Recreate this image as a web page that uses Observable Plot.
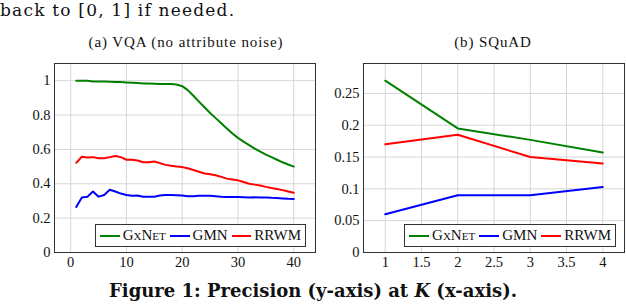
<!DOCTYPE html>
<html>
<head>
<meta charset="utf-8">
<script src="https://cdn.jsdelivr.net/npm/d3@7"></script>
<script src="https://cdn.jsdelivr.net/npm/@observablehq/plot@0.6"></script>
<style>
  html, body { margin: 0; padding: 0; background: #fff; }
  #root { position: relative; width: 626px; height: 306px; overflow: hidden; font-family: "Liberation Serif", "DejaVu Serif", serif; color: #111; }
  .abs { position: absolute; }
  .ptitle { font-size: 15px; letter-spacing: 0.9px; white-space: nowrap; transform: translateX(-50%); line-height: 18px; }
  .legend { position: absolute; background: #fff; border: 1px solid #333; box-sizing: border-box; display: flex; align-items: center; font-size: 15px; padding-left: 4px; }
  .legend .sw { display: inline-block; width: 22px; height: 2px; margin-right: 3px; }
  .legend .lab { margin-right: 4px; white-space: nowrap; }
  .sc { font-variant: small-caps; }
</style>
</head>
<body>
<div id="root"></div>
<script>
// ---- data ----
const seriesNames = ["GxNet", "GMN", "RRWM"];
const seriesColors = ["#008000", "#0000ff", "#ff0000"];

// (a) VQA, K = 1..40
const kVQA = [1,2,3,4,5,6,7,8,9,10,11,12,13,14,15,16,17,18,19,20,21,22,23,24,25,26,27,28,29,30,31,32,33,34,35,36,37,38,39,40];
const vqaGxNet = [1.0,1.0,1.0,0.995,0.995,0.995,0.994,0.993,0.992,0.99,0.988,0.986,0.984,0.983,0.982,0.98,0.98,0.98,0.978,0.968,
                  0.945,0.912,0.878,0.845,0.812,0.782,0.752,0.722,0.693,0.667,0.645,0.625,0.605,0.587,0.57,0.555,0.54,0.525,0.512,0.50];
const vqaGMN = [0.265,0.32,0.325,0.355,0.325,0.335,0.365,0.355,0.343,0.335,0.33,0.332,0.325,0.325,0.325,0.332,0.335,0.334,0.333,0.332,
                0.328,0.328,0.33,0.33,0.33,0.327,0.324,0.323,0.323,0.323,0.322,0.32,0.321,0.32,0.32,0.318,0.317,0.315,0.313,0.312];
const vqaRRWM = [0.522,0.557,0.553,0.555,0.548,0.548,0.555,0.562,0.555,0.54,0.54,0.535,0.525,0.525,0.53,0.52,0.51,0.505,0.50,0.497,
                 0.49,0.48,0.47,0.46,0.455,0.45,0.44,0.43,0.425,0.42,0.41,0.40,0.395,0.39,0.382,0.375,0.37,0.363,0.355,0.348];

// (b) SQuAD, K = 1..4
const kSQuAD = [1, 2, 3, 4];
const squadGxNet = [0.27, 0.195, 0.177, 0.157];
const squadGMN = [0.06, 0.09, 0.09, 0.103];
const squadRRWM = [0.17, 0.185, 0.15, 0.14];

const vqaTicksX = [0, 10, 20, 30, 40];
const vqaTicksY = [0, 0.2, 0.4, 0.6, 0.8, 1];
const squadTicksX = [1, 1.5, 2, 2.5, 3, 3.5, 4];
const squadTicksY = [0, 0.05, 0.1, 0.15, 0.2, 0.25];

const titleA = "(a) VQA (no attribute noise)";
const titleB = "(b) SQuAD";

// ---- build ----
function toRows(ks, arrays) {
  const rows = [];
  arrays.forEach((arr, i) => arr.forEach((v, j) => rows.push({k: ks[j], v, s: seriesNames[i]})));
  return rows;
}

const FONT = "Liberation Serif, DejaVu Serif, serif";

function panel(rows, o) {
  return Plot.plot({
    width: o.width, height: 275,
    marginLeft: o.ml, marginRight: o.mr, marginTop: 63, marginBottom: 23,
    style: {fontFamily: FONT, fontSize: "14.5px", color: "#111", background: "transparent", overflow: "visible"},
    x: {domain: o.xd, ticks: o.tx, label: null},
    y: {domain: o.yd, ticks: o.ty, label: null},
    color: {domain: seriesNames, range: seriesColors},
    marks: [
      Plot.gridX(o.tx, {stroke: "#d6d6d6", strokeOpacity: 1, strokeWidth: 1}),
      Plot.gridY(o.ty, {stroke: "#d6d6d6", strokeOpacity: 1, strokeWidth: 1}),
      Plot.axisX(o.tx, {tickSize: 0, tickPadding: 4, tickFormat: d => String(d), fontSize: 14.5}),
      Plot.axisY(o.ty, {tickSize: 0, tickPadding: 4, tickFormat: d => String(d), fontSize: 14.5}),
      Plot.lineY(rows, {x: "k", y: "v", stroke: "s", z: "s", strokeWidth: 2, curve: "linear"}),
      Plot.frame({stroke: "#333", strokeWidth: 1})
    ]
  });
}

const root = document.getElementById("root");

function place(el, left, top) {
  el.style.position = "absolute";
  el.style.left = left + "px";
  el.style.top = top + "px";
  root.appendChild(el);
}

const pA = panel(toRows(kVQA, [vqaGxNet, vqaGMN, vqaRRWM]), {width: 320, ml: 54, mr: 5, xd: [-2.9, 43.9], yd: [0, 1.1], tx: vqaTicksX, ty: vqaTicksY});
place(pA, 0, 0);
const pB = panel(toRows(kSQuAD, [squadGxNet, squadGMN, squadRRWM]), {width: 316, ml: 53, mr: 2, xd: [0.7, 4.3], yd: [0, 0.297], tx: squadTicksX, ty: squadTicksY});
place(pB, 310, 0);

// top text fragment
const topText = document.createElement("div");
topText.className = "abs";
topText.style.cssText = "left:0; top:0; font-size:17px; white-space:nowrap; font-family:'DejaVu Serif', serif; letter-spacing:1.2px;";
topText.textContent = "back to [0, 1] if needed.";
root.appendChild(topText);

// panel titles
[[titleA, 186], [titleB, 493]].forEach(([t, cx]) => {
  const d = document.createElement("div");
  d.className = "abs ptitle";
  d.style.left = cx + "px";
  d.style.top = "33px";
  d.textContent = t;
  root.appendChild(d);
});

// legends
function legend(left, top, width) {
  const d = document.createElement("div");
  d.className = "legend";
  d.style.left = left + "px"; d.style.top = top + "px";
  d.style.width = width + "px"; d.style.height = "23px";
  seriesNames.forEach((n, i) => {
    const sw = document.createElement("span");
    sw.className = "sw"; sw.style.background = seriesColors[i];
    const lab = document.createElement("span");
    lab.className = "lab" + (i === 0 ? " sc" : "");
    lab.textContent = n;
    d.appendChild(sw); d.appendChild(lab);
  });
  root.appendChild(d);
}
legend(95, 224, 211);
legend(404, 224, 212);

// caption
const cap = document.createElement("div");
cap.className = "abs";
cap.style.cssText = "left:0; width:626px; text-align:center; top:280px; font-size:18px; line-height:22px; font-weight:bold; white-space:nowrap; font-family:'DejaVu Serif', serif;";
cap.innerHTML = "Figure 1: Precision (y-axis) at <i>K</i> (x-axis).";
root.appendChild(cap);
</script>
</body>
</html>
